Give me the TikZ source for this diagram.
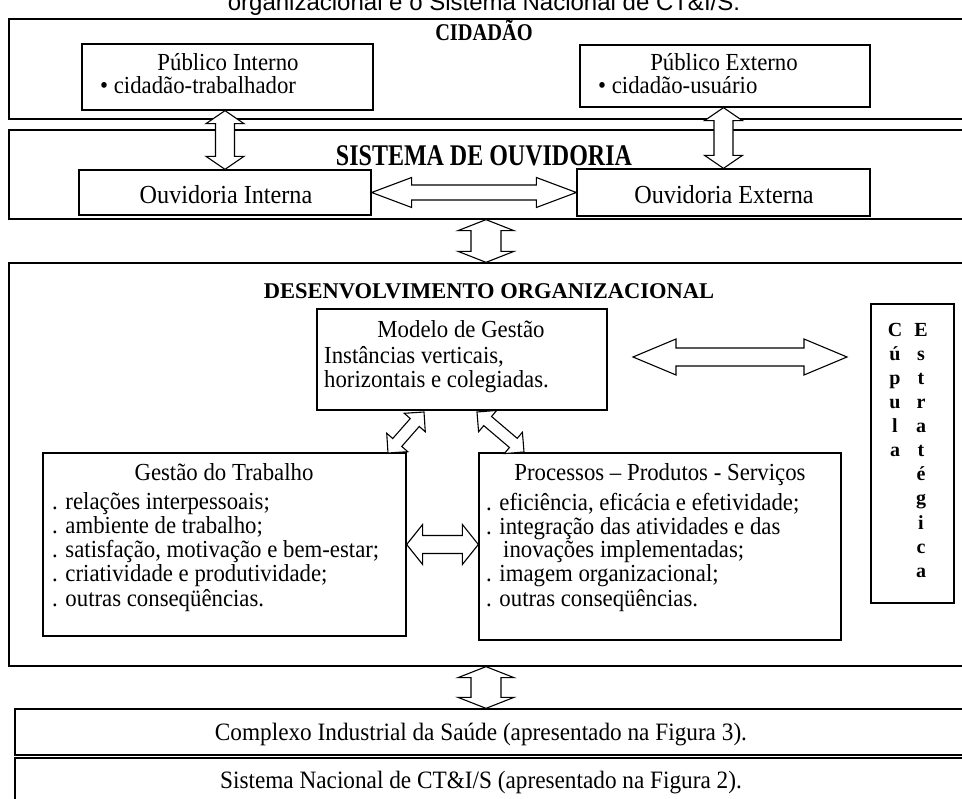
\documentclass[tikz,border=0pt]{standalone}
\usepackage{fontspec}
\setmainfont{Liberation Serif}
\newfontfamily\sansfam{Liberation Sans}
\newfontfamily\bodyfam[FakeStretch=0.93]{Liberation Serif}
\newfontfamily\cidfam[FakeStretch=0.85]{Liberation Serif Bold}
\newfontfamily\sisfam[FakeStretch=0.8]{Liberation Serif Bold}
\newfontfamily\boldfam{Liberation Serif Bold}
\usetikzlibrary{calc,fit}
\newcommand{\dblarrow}[5]{%
  \coordinate (tmpP) at ($(#1)!#5pt!(#2)$);
  \coordinate (tmpQ) at ($(#2)!#5pt!(#1)$);
  \draw[blockarrow] (#1) -- ($(tmpP)!#4pt!90:(#2)$) -- ($(tmpP)!#3pt!90:(#2)$)
    -- ($(tmpQ)!#3pt!-90:(#1)$) -- ($(tmpQ)!#4pt!-90:(#1)$) -- (#2)
    -- ($(tmpQ)!#4pt!90:(#1)$) -- ($(tmpQ)!#3pt!90:(#1)$)
    -- ($(tmpP)!#3pt!-90:(#2)$) -- ($(tmpP)!#4pt!-90:(#2)$) -- cycle;}
\begin{document}
\begin{tikzpicture}[x=1pt,y=-1pt,
  box/.style={draw, line width=1.3pt, inner sep=0pt},
  blockarrow/.style={draw, fill=white, line width=1.1pt, line join=miter},
  txt/.style={inner sep=0pt, font=\bodyfam\fontsize{24.5}{28}\selectfont},
  big/.style={inner sep=0pt, font=\bodyfam\fontsize{26}{30}\selectfont},
  bot/.style={inner sep=0pt, font=\bodyfam\fontsize{25}{29}\selectfont},
  cup/.style={inner sep=0pt, align=center, font=\boldfam\fontsize{20}{24.1}\selectfont}]
\useasboundingbox (0,0) rectangle (962,799);
\clip (0,0) rectangle (962,799);
\fill[white] (0,0) rectangle (962,799);

% title (cut off at top, as in the reference)
\node[inner sep=0pt, anchor=base, font=\sansfam\fontsize{24}{28}\selectfont] (title) at (484,11) {organizacional e o Sistema Nacional de CT\&I/S.};

% CIDADAO
\node[box, fit={(9,19) (963,119)}] (cid) {};
\node[inner sep=0pt, anchor=base, font=\cidfam\fontsize{24}{28}\selectfont] (cidT) at (484,41) {CIDADÃO};
\node[box, fit={(82,44) (373,110)}] (pi) {};
\node[txt, anchor=base] (piT) at (228,71) {Público Interno};
\node[txt, anchor=base west] (piB) at (100,94) {• cidadão-trabalhador};
\node[box, fit={(580,45) (870,107)}] (pe) {};
\node[txt, anchor=base] (peT) at (724,71) {Público Externo};
\node[txt, anchor=base west] (peB) at (598,94) {• cidadão-usuário};

% SISTEMA DE OUVIDORIA
\node[box, fit={(9,130) (963,219)}] (sis) {};
\node[inner sep=0pt, anchor=base, font=\sisfam\fontsize{30}{34}\selectfont] (sisT) at (484,166) {SISTEMA DE OUVIDORIA};
\node[box, fit={(79,170) (371,215)}] (oi) {};
\node[big, anchor=base] (oiT) at (226,204) {Ouvidoria Interna};
\node[box, fit={(577,169) (870,216)}] (oe) {};
\node[big, anchor=base] (oeT) at (724,204) {Ouvidoria Externa};

% DESENVOLVIMENTO ORGANIZACIONAL
\node[box, fit={(9,263) (963,666)}] (des) {};
\node[inner sep=0pt, anchor=base, font=\boldfam\fontsize{22.5}{26}\selectfont] (desT) at (489,299) {DESENVOLVIMENTO ORGANIZACIONAL};
\node[box, fit={(317,309) (607,410)}] (mg) {};
\node[txt, anchor=base] (mgT) at (461,338) {Modelo de Gestão};
\node[txt, anchor=base west] (mg1) at (324,364) {Instâncias verticais,};
\node[txt, anchor=base west] (mg2) at (324,388) {horizontais e colegiadas.};
\node[box, fit={(871,304) (954,603)}] (cup) {};
\node[cup, anchor=north] (cupA) at (895,323) {C\\ú\\p\\u\\l\\a};
\node[cup, anchor=north] (cupB) at (921,323) {E\\s\\t\\r\\a\\t\\é\\g\\i\\c\\a};

\node[box, fit={(43,453) (406,636)}] (gt) {};
\node[txt, anchor=base] (gtT) at (224,481) {Gestão do Trabalho};
\node[txt, anchor=base west] (gt1) at (52,510) {. relações interpessoais;};
\node[txt, anchor=base west] (gt2) at (52,534) {. ambiente de trabalho;};
\node[txt, anchor=base west] (gt3) at (52,558) {. satisfação, motivação e bem-estar;};
\node[txt, anchor=base west] (gt4) at (52,582) {. criatividade e produtividade;};
\node[txt, anchor=base west] (gt5) at (52,606) {. outras conseqüências.};

\node[box, fit={(479,453) (841,640)}] (pps) {};
\node[txt, anchor=base] (ppsT) at (660,481) {Processos – Produtos - Serviços};
\node[txt, anchor=base west] (pp1) at (486,511) {. eficiência, eficácia e efetividade;};
\node[txt, anchor=base west] (pp2) at (486,535) {. integração das atividades e das};
\node[txt, anchor=base west] (pp3) at (503,558) {inovações implementadas;};
\node[txt, anchor=base west] (pp4) at (486,582) {. imagem organizacional;};
\node[txt, anchor=base west] (pp5) at (486,606) {. outras conseqüências.};

% bottom boxes
\node[box, fit={(15,709) (975,755)}] (cis) {};
\node[bot, anchor=base] (cisT) at (481,740) {Complexo Industrial da Saúde (apresentado na Figura 3).};
\node[box, fit={(15,758) (975,830)}] (snc) {};
\node[bot, anchor=base] (sncT) at (481,788) {Sistema Nacional de CT\&I/S (apresentado na Figura 2).};

% connectors (block double arrows)
\coordinate (a1s) at (pi.south -| oi.north);
\coordinate (a2s) at (pe.south -| oe.north);
\coordinate (a5s) at (633,357);
\coordinate (a5e) at (847,357);
\coordinate (a6s) at (424,412);
\coordinate (a6e) at (388,453);
\coordinate (a7s) at (477,412);
\coordinate (a7e) at (524,452);
\coordinate (a8e) at (pps.west |- gt.east);
\coordinate (a9e) at (des.south |- cis.north);

\dblarrow{a1s}{oi.north}{9.5}{19}{13}
\dblarrow{a2s}{oe.north}{9.5}{19}{13}
\dblarrow{oi.east}{oe.west}{7.5}{15}{40}
\dblarrow{sis.south}{des.north}{15}{28}{11}
\dblarrow{a5s}{a5e}{9}{18}{43}
\dblarrow{a6s}{a6e}{6}{14}{14}
\dblarrow{a7s}{a7e}{6}{14}{14}
\dblarrow{gt.east}{a8e}{9}{20}{16}
\dblarrow{des.south}{a9e}{15}{28}{11}
\end{tikzpicture}
\end{document}
